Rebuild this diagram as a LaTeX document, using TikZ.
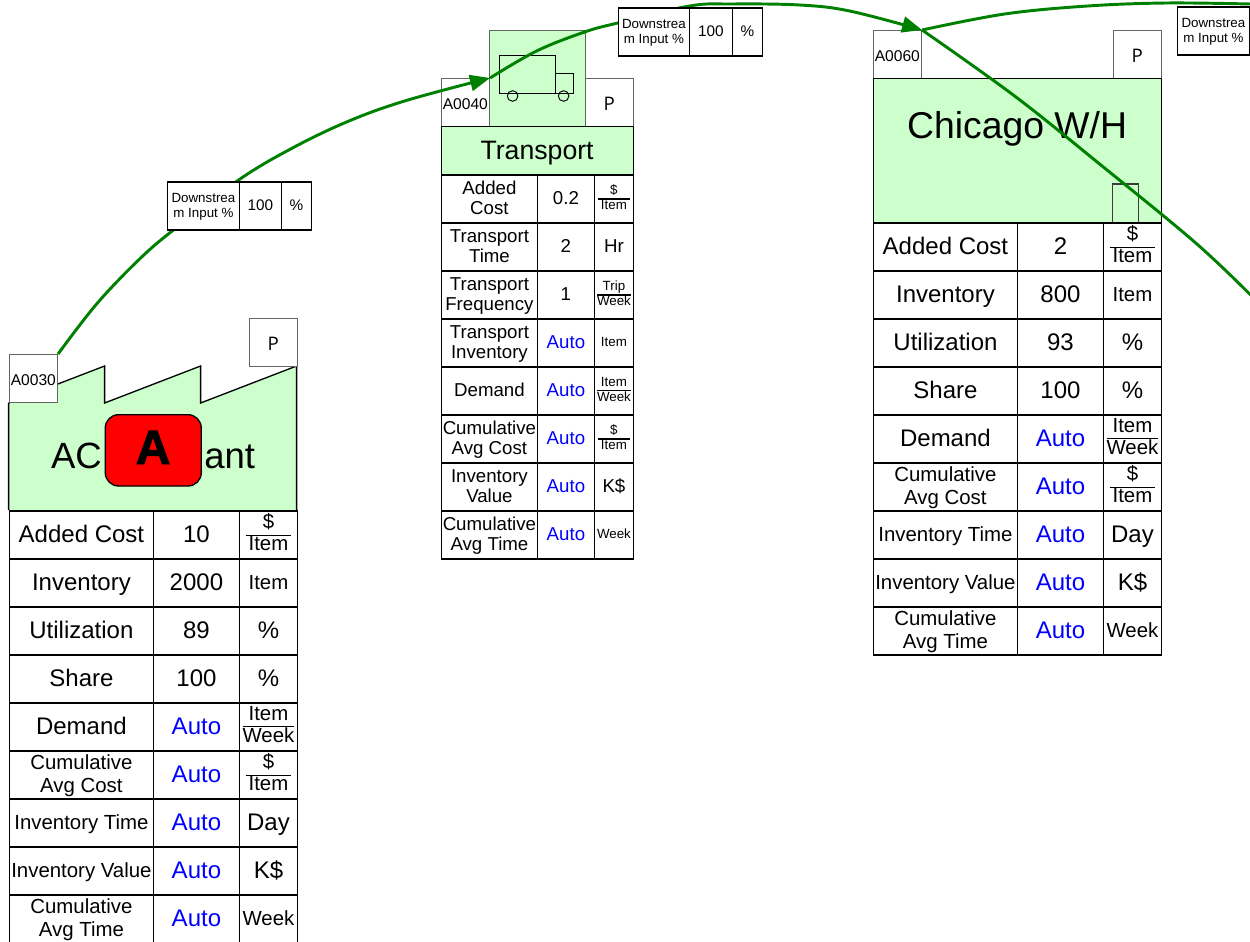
\documentclass[tikz,border=0pt]{standalone}
\usepackage{fontspec}
\setmainfont{Liberation Sans}
\newfontfamily\pfont{Open Sans}
\newfontfamily\heavyfont[FakeBold=2]{Liberation Sans Bold}
\usetikzlibrary{arrows.meta}
\definecolor{stagegreen}{RGB}{204,255,204}
\definecolor{flowgreen}{RGB}{0,128,0}
\definecolor{idgray}{RGB}{100,100,100}
\newcommand{\cstrut}{\rule[-.225\baselineskip]{0pt}{\baselineskip}}
\newcommand{\idstrut}{\rule[-.1\baselineskip]{0pt}{\baselineskip}}
\tikzset{
    cellbox/.style={draw=black, line width=1.25pt, fill=white, anchor=north west, inner sep=0pt, align=center},
    idbox/.style={draw=idgray, line width=1.1pt, fill=white, anchor=north west, inner sep=0pt, minimum width=36pt, minimum height=36pt, font=\fontsize{11.7}{13}\selectfont, execute at begin node=\idstrut},
    pbox/.style={idbox, font=\pfont\fontsize{14}{15}\selectfont},
    greenbox/.style={draw=black, line width=1pt, fill=stagegreen, anchor=north west, inner sep=0pt},
    outline/.style={draw=black, line width=0.7pt},
    flow/.style={draw=flowgreen, line width=2.2pt},
    flowarrow/.style={flow, -{Triangle[length=15pt,width=12pt]}},
    big/.style={font=\fontsize{18}{20}\selectfont},
    mid/.style={font=\fontsize{15.3}{17.2}\selectfont},
    low/.style={font=\fontsize{14}{15}\selectfont},
    tiny/.style={font=\fontsize{10}{11}\selectfont},
    boxnum/.style={font=\fontsize{11.5}{12}\selectfont},
    title/.style={anchor=base, inner sep=0pt, font=\fontsize{27.4}{30}\selectfont}
}
\newcommand{\ufrac}[2]{{\renewcommand{\arraystretch}{0.82}\setlength{\arrayrulewidth}{1.2pt}\setlength{\tabcolsep}{2pt}\begin{tabular}{c}#1\\\hline #2\end{tabular}}}
\newcommand{\wfrac}[2]{{\renewcommand{\arraystretch}{0.82}\setlength{\arrayrulewidth}{1.2pt}\setlength{\tabcolsep}{0pt}\begin{tabular}{c}#1\\\hline #2\end{tabular}}}
\newcommand{\autov}{\textcolor{blue}{Auto}}
\newcommand{\setcols}[4]{\def\cola{#1}\def\colb{#2}\def\colc{#3}\def\cold{#4}}
\newcommand{\tcell}[6]{
    \node[cellbox, #5, minimum width={(#3-#2)*0.75pt}, minimum height=36pt] (#1) at (#2,#4) {\cstrut #6\cstrut};
}
\newcommand{\trow}[8]{
    \tcell{#1l}{\cola}{\colb}{#2}{#3}{#4}
    \tcell{#1v}{\colb}{\colc}{#2}{#5}{#6}
    \tcell{#1u}{\colc}{\cold}{#2}{#7}{#8}
}
\begin{document}
\begin{tikzpicture}[x=0.75pt, y=-0.75pt]
    \useasboundingbox (0.4,1) rectangle (1250.4,943);

    \fill[stagegreen] (9,404) -- (105,367) -- (105,404) -- (201,367) -- (201,404) -- (297,367) -- (297,511) -- (9,511) -- cycle;
    \draw[line width=1pt] (9,404) -- (105,367) -- (105,404) -- (201,367) -- (201,404) -- (297,367) -- (297,511) (9,404) -- (9,511);
    \node[title, anchor=base east] (plantleft) at (102.5,469) {AC};
    \node[title, anchor=base west] (plantright) at (204.5,469) {ant};
    \node[draw=black, line width=1pt, fill=red, rounded corners=10pt, anchor=north west, inner sep=0pt, minimum width=72pt, minimum height=53.5pt] (alert) at (105,415) {};
    \node[font=\heavyfont\fontsize{36}{36}\selectfont, inner sep=0pt, anchor=base] (alertmark) at (153.5,465) {A};
    \node[idbox] (plantid) at (9,355) {A0030};
    \node[pbox] (plantp) at (249,319) {P};
    \setcols{9}{153}{239}{297}
    \trow{pa}{511}{big}{Added Cost}{big}{10}{mid}{\ufrac{\$}{Item}}
    \trow{pb}{559}{big}{Inventory}{big}{2000}{mid}{Item}
    \trow{pc}{607}{big}{Utilization}{big}{89}{big}{\%}
    \trow{pd}{655}{big}{Share}{big}{100}{big}{\%}
    \trow{pe}{703}{big}{Demand}{big}{\autov}{mid}{\wfrac{Item}{Week}}
    \trow{pf}{751}{mid}{Cumulative\\Avg Cost}{big}{\autov}{mid}{\ufrac{\$}{Item}}
    \trow{pg}{799}{mid}{Inventory Time}{big}{\autov}{big}{Day}
    \trow{ph}{847}{mid}{Inventory Value}{big}{\autov}{big}{K\$}
    \trow{pi}{895}{mid}{Cumulative\\Avg Time}{big}{\autov}{mid}{Week}

    \node[idbox] (transid) at (441,79) {A0040};
    \node[idbox, fill=stagegreen, minimum width=72pt, minimum height=72pt] (truckbox) at (489,31) {};
    \node[pbox] (transp) at (585,79) {P};
    \draw[outline] (500,56) rectangle (556,94);
    \draw[outline] (556,74) rectangle (574,94);
    \draw[outline] (513,97) circle (5.3);
    \draw[outline] (564,97) circle (5.3);
    \node[greenbox, minimum width=144pt, minimum height=36pt] (transhead) at (441,127) {};
    \node[title, font=\fontsize{20}{22}\selectfont] (transtitle) at (537.5,160) {Transport};
    \setcols{441}{537}{594}{633}
    \trow{ta}{175}{low}{Added\\Cost}{low}{0.2}{tiny}{\ufrac{\$}{Item}}
    \trow{tb}{223}{low}{Transport\\Time}{low}{2}{low}{Hr}
    \trow{tc}{271}{low}{Transport\\Frequency}{low}{1}{tiny}{\wfrac{Trip}{Week}}
    \trow{td}{319}{low}{Transport\\Inventory}{low}{\autov}{tiny}{Item}
    \trow{te}{367}{low}{Demand}{low}{\autov}{tiny}{\wfrac{Item}{Week}}
    \trow{tf}{415}{low}{Cumulative\\Avg Cost}{low}{\autov}{tiny}{\ufrac{\$}{Item}}
    \trow{tg}{463}{low}{Inventory\\Value}{low}{\autov}{low}{K\$}
    \trow{th}{511}{low}{Cumulative\\Avg Time}{low}{\autov}{tiny}{Week}

    \node[idbox] (chiid) at (873,31) {A0060};
    \node[pbox] (chip) at (1113,31) {P};
    \node[greenbox, minimum width=216pt, minimum height=108pt] (chihead) at (873,79) {};
    \node[title, font=\fontsize{28}{30}\selectfont] (chititle) at (1017.5,139) {Chicago W/H};
    \draw[idgray!60!black, line width=1pt] (1113,223) -- (1113,185) -- (1139,185) -- (1139,223);
    \setcols{873}{1017}{1103}{1161}
    \trow{ca}{223}{big}{Added Cost}{big}{2}{mid}{\ufrac{\$}{Item}}
    \trow{cb}{271}{big}{Inventory}{big}{800}{mid}{Item}
    \trow{cc}{319}{big}{Utilization}{big}{93}{big}{\%}
    \trow{cd}{367}{big}{Share}{big}{100}{big}{\%}
    \trow{ce}{415}{big}{Demand}{big}{\autov}{mid}{\wfrac{Item}{Week}}
    \trow{cf}{463}{mid}{Cumulative\\Avg Cost}{big}{\autov}{mid}{\ufrac{\$}{Item}}
    \trow{cg}{511}{mid}{Inventory Time}{big}{\autov}{big}{Day}
    \trow{ch}{559}{mid}{Inventory Value}{big}{\autov}{big}{K\$}
    \trow{ci}{607}{mid}{Cumulative\\Avg Time}{big}{\autov}{mid}{Week}

    \coordinate (outtop) at (1251,5);
    \coordinate (outdown) at (1251,296);
    \draw[flowarrow] plot[smooth, tension=0.6] coordinates {(plantid.north east) (97,305) (140,260) (175,230) (239,181) (291,150) (347,123) (405,102) (transid.north east)};
    \draw[flowarrow] plot[smooth, tension=0.6] coordinates {(transid.north east) (537,52) (585,33) (618,24) (690,7) (732,5) (800,6) (850,12) (chiid.north east)};
    \draw[flow] plot[smooth, tension=0.6] coordinates {(chiid.north east) (1005,15) (1088,7) (1167,4) (outtop)};
    \draw[flow] plot[smooth, tension=0.6] coordinates {(chiid.north east) (1015,97) (1100,165) (1195,243) (outdown)};

    \setcols{167}{239}{281}{311}
    \tcell{dal}{\cola}{\colb}{182}{tiny}{Downstrea\\m Input \%}
    \tcell{dav}{\colb}{\colc}{182}{boxnum}{100}
    \tcell{dau}{\colc}{\cold}{182}{boxnum}{\%}
    \setcols{618}{689}{732}{762}
    \tcell{dbl}{\cola}{\colb}{8}{tiny}{Downstrea\\m Input \%}
    \tcell{dbv}{\colb}{\colc}{8}{boxnum}{100}
    \tcell{dbu}{\colc}{\cold}{8}{boxnum}{\%}
    \tcell{dcl}{1177}{1249}{7}{tiny}{Downstrea\\m Input \%}
\end{tikzpicture}
\end{document}
